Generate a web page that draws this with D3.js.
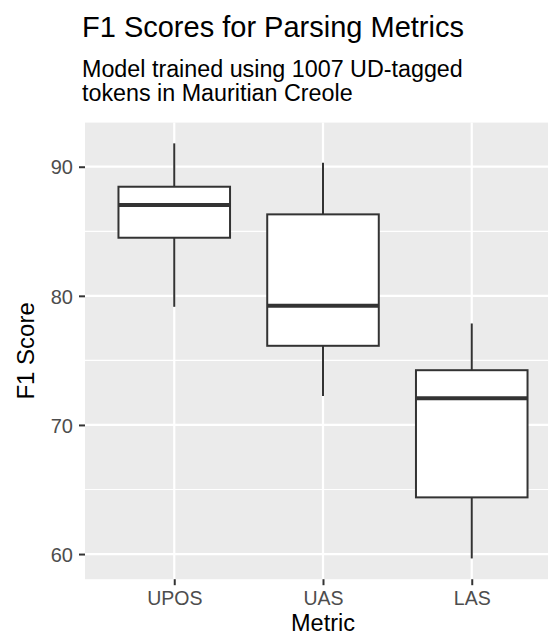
<!DOCTYPE html>
<html><head><meta charset="utf-8">
<script src="https://cdn.jsdelivr.net/npm/d3@7"></script>
<style>body{margin:0;background:#fff}svg{display:block}text{font-family:"Liberation Sans",Arial,sans-serif}</style>
</head><body><svg id="c" width="548" height="637"></svg>
<script>
const categories = ["UPOS","UAS","LAS"];
const lowerWhisker = [79.15, 72.25, 59.66];
const q1 = [84.5, 76.13, 64.39];
const median = [87.03, 79.23, 72.07];
const q3 = [88.45, 86.31, 74.24];
const upperWhisker = [91.81, 90.31, 77.86];
const yTicks = [60, 70, 80, 90];
const yMinor = [65, 75, 85];

const svg = d3.select("#c");
const L = 85, R = 561, T = 122.6, B = 579.2;
const lo = d3.min(lowerWhisker), hi = d3.max(upperWhisker), pad = (hi - lo) * 0.05;
const y = d3.scaleLinear().domain([lo - pad, hi + pad]).range([B, T]);
const step = (R - L) / (categories.length + 0.2);
const x = d3.scalePoint().domain(categories).range([L + 0.6 * step, R - 0.6 * step]);
const bw = step * 0.75;

svg.append("rect").attr("x", L).attr("y", T).attr("width", R - L).attr("height", B - T).attr("fill", "#EBEBEB");
const g = svg.append("g");
yMinor.forEach(v => g.append("line").attr("x1", L).attr("x2", R).attr("y1", y(v)).attr("y2", y(v)).attr("stroke", "#fff").attr("stroke-width", 1.2));
yTicks.forEach(v => g.append("line").attr("x1", L).attr("x2", R).attr("y1", y(v)).attr("y2", y(v)).attr("stroke", "#fff").attr("stroke-width", 2.2));
categories.forEach(c => g.append("line").attr("x1", x(c)).attr("x2", x(c)).attr("y1", T).attr("y2", B).attr("stroke", "#fff").attr("stroke-width", 2.2));

const data = categories.map((c, i) => ({c, lw: lowerWhisker[i], q1: q1[i], m: median[i], q3: q3[i], uw: upperWhisker[i]}));
const bx = svg.append("g").selectAll("g").data(data).join("g");
bx.append("line").attr("x1", d => x(d.c)).attr("x2", d => x(d.c)).attr("y1", d => y(d.uw)).attr("y2", d => y(d.q3)).attr("stroke", "#333").attr("stroke-width", 2);
bx.append("line").attr("x1", d => x(d.c)).attr("x2", d => x(d.c)).attr("y1", d => y(d.q1)).attr("y2", d => y(d.lw)).attr("stroke", "#333").attr("stroke-width", 2);
bx.append("rect").attr("x", d => x(d.c) - bw / 2).attr("width", bw).attr("y", d => y(d.q3)).attr("height", d => y(d.q1) - y(d.q3)).attr("fill", "#fff").attr("stroke", "#333").attr("stroke-width", 2);
bx.append("line").attr("x1", d => x(d.c) - bw / 2).attr("x2", d => x(d.c) + bw / 2).attr("y1", d => y(d.m)).attr("y2", d => y(d.m)).attr("stroke", "#333").attr("stroke-width", 4);

// axes
const ya = svg.append("g").attr("transform", `translate(${L},0)`).call(d3.axisLeft(y).tickValues(yTicks).tickSize(6).tickPadding(6));
ya.select(".domain").remove();
ya.selectAll("line").attr("stroke", "#333").attr("stroke-width", 2);
ya.selectAll("text").attr("fill", "#4D4D4D").attr("dy", "0.36em").style("font-size", "20px").style("font-family", "Liberation Sans, Arial, sans-serif");
const xa = svg.append("g").attr("transform", `translate(0,${B})`).call(d3.axisBottom(x).tickSize(6).tickPadding(6));
xa.select(".domain").remove();
xa.selectAll("line").attr("stroke", "#333").attr("stroke-width", 2);
xa.selectAll("text").attr("fill", "#4D4D4D").style("font-size", "19.5px").style("font-family", "Liberation Sans, Arial, sans-serif");

svg.append("text").attr("x", (L + R) / 2).attr("y", 631).attr("text-anchor", "middle").attr("font-size", 23.5).attr("fill", "#000").text("Metric");
svg.append("text").attr("transform", `translate(34,${(T + B) / 2}) rotate(-90)`).attr("text-anchor", "middle").attr("font-size", 24).attr("fill", "#000").text("F1 Score");

svg.append("text").attr("x", 82).attr("y", 37.3).attr("font-size", 29).attr("fill", "#000").text("F1 Scores for Parsing Metrics");
svg.append("text").attr("x", 82).attr("y", 76.5).attr("font-size", 23.3).attr("fill", "#000").text("Model trained using 1007 UD-tagged");
svg.append("text").attr("x", 82).attr("y", 101).attr("font-size", 23.3).attr("fill", "#000").text("tokens in Mauritian Creole");
</script></body></html>
